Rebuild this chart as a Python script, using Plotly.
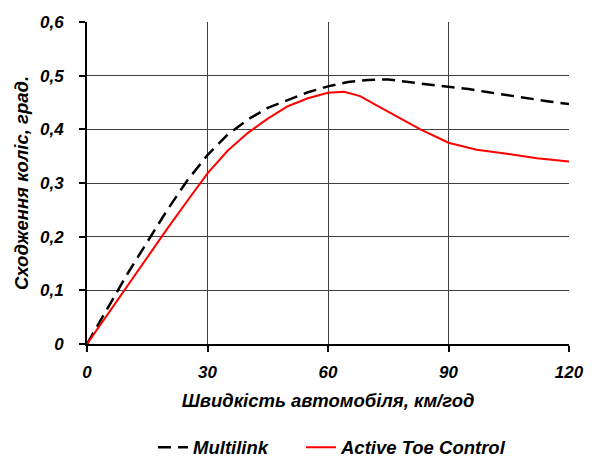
import plotly.graph_objects as go

speed_ml = [0, 5, 10, 15, 20, 25, 30, 35, 40, 45, 50, 55, 60, 65, 70, 75, 80, 85, 90, 95, 100, 105, 110, 115, 120]
toe_ml = [0, 0.065, 0.13, 0.19, 0.25, 0.305, 0.352, 0.39, 0.418, 0.44, 0.455, 0.469, 0.48, 0.488, 0.492, 0.493, 0.488, 0.484, 0.48, 0.475, 0.469, 0.463, 0.457, 0.452, 0.447]

speed_atc = [0, 5, 10, 15, 20, 25, 30, 35, 40, 45, 50, 55, 60, 64, 68, 72, 77, 83, 90, 97, 105, 112, 120]
toe_atc = [0, 0.054, 0.108, 0.162, 0.215, 0.267, 0.318, 0.36, 0.393, 0.42, 0.443, 0.458, 0.468, 0.47, 0.462, 0.445, 0.425, 0.40, 0.375, 0.362, 0.354, 0.346, 0.34]

x_ticks = [0, 30, 60, 90, 120]
y_ticks = [0, 0.1, 0.2, 0.3, 0.4, 0.5, 0.6]
y_ticktext = ["0", "0,1", "0,2", "0,3", "0,4", "0,5", "0,6"]

font_fam = "Liberation Sans, Arial, sans-serif"
bi = dict(family=font_fam, weight="bold", style="italic", color="black")

fig = go.Figure()
fig.add_trace(go.Scatter(x=speed_ml, y=toe_ml, mode="lines", name="Multilink", legend="legend",
                         line=dict(color="black", width=2.5, dash="13px,7px")))
fig.add_trace(go.Scatter(x=speed_atc, y=toe_atc, mode="lines", name="Active Toe Control", legend="legend2",
                         line=dict(color="#ff0000", width=2)))

leg_common = dict(orientation="h", xanchor="left", yanchor="middle", y=-0.322,
                  font=dict(size=18.5, **bi), bgcolor="rgba(0,0,0,0)")

fig.update_layout(
    width=592, height=457,
    margin=dict(l=87, r=23, t=22, b=113, autoexpand=False),
    plot_bgcolor="white", paper_bgcolor="white",
    font=dict(family=font_fam, size=15, color="black"),
    showlegend=True,
    legend=dict(x=0.137, **leg_common),
    legend2=dict(x=0.444, **leg_common),
)
fig.update_xaxes(
    range=[0, 120], tickvals=x_ticks, ticks="outside", ticklen=6, tickwidth=1.5, tickcolor="black",
    showline=True, linecolor="black", linewidth=2,
    showgrid=True, gridcolor="#404040", gridwidth=1, zeroline=False,
    tickfont=dict(size=17, **bi),
    ticklabelstandoff=6,
    title=dict(text="Швидкість автомобіля, км/год", standoff=13,
               font=dict(size=18.5, **bi)),
)
fig.update_yaxes(
    range=[0, 0.6], tickvals=y_ticks, ticktext=y_ticktext, ticks="outside", ticklen=6, tickwidth=1.5, tickcolor="black",
    showline=True, linecolor="black", linewidth=2,
    showgrid=True, gridcolor="#404040", gridwidth=1, zeroline=False,
    tickfont=dict(size=17, **bi),
    ticklabelstandoff=12,
    title=dict(text="Сходження коліс, град.", standoff=6,
               font=dict(size=18.5, **bi)),
)

fig.write_html("out.html")
